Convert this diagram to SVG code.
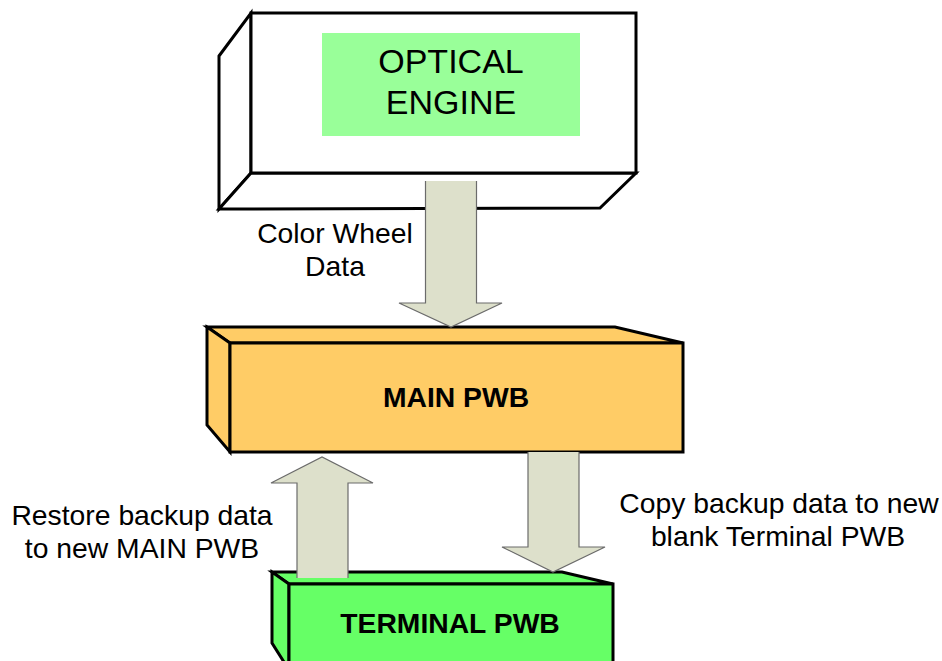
<svg xmlns="http://www.w3.org/2000/svg" width="942" height="661" viewBox="0 0 942 661">
<style>
.box{stroke:#000;stroke-width:3;stroke-linejoin:miter}
.arrow{fill:#DDE0CB;stroke:none}
.aline{fill:none;stroke:#6b6b6b;stroke-width:1.2}
.lbl{font-family:"Liberation Sans",Arial,sans-serif;font-size:28.3px;fill:#000;text-anchor:middle}
.big{font-size:34px}
.bold{font-weight:bold}
</style>
<rect width="942" height="661" fill="#fff"/>
<g id="optical-engine">
<polygon class="box" fill="#fff" points="219,56 251,13 251,173 219,209"/>
<polygon class="box" fill="#fff" points="251,173 636,173 600,208 219,209"/>
<rect class="box" fill="#fff" x="251" y="13" width="385" height="160"/>
<rect x="322" y="33" width="258" height="103" fill="#99FF99"/>
<text class="lbl big" x="451" y="73">OPTICAL</text>
<text class="lbl big" x="451" y="114">ENGINE</text>
</g>
<g id="main-pwb">
<polygon class="box" fill="#FFCC66" points="207,327 615,327 683,343 230,343"/>
<polygon class="box" fill="#FFCC66" points="207,327 230,343 230,452 207,425"/>
<rect class="box" fill="#FFCC66" x="230" y="343" width="453" height="109"/>
<text class="lbl bold" x="456" y="407">MAIN PWB</text>
</g>
<g id="terminal-pwb">
<polygon class="box" fill="#66FF66" points="272,572 562,572 613,584 289,584"/>
<polygon class="box" fill="#66FF66" points="272,572 289,584 289,670 272,643"/>
<rect class="box" fill="#66FF66" x="289" y="584" width="324" height="90"/>
<text class="lbl bold" x="450" y="633">TERMINAL PWB</text>
</g>
<g id="connectors">
<polygon class="arrow" points="425.5,181 476.5,181 476.5,303 502,303 451,327 399,303 425.5,303"/>
<polyline class="aline" points="476.5,181 476.5,303 502,303 451,327 399,303 425.5,303 425.5,181"/>
<polygon class="arrow" points="528,452 579,452 579,547 605,547 553,572 502,547 528,547"/>
<polyline class="aline" points="579,452 579,547 605,547 553,572 502,547 528,547 528,452"/>
<polygon class="arrow" points="297,578 348,578 348,483 373,483 322,457 271,483 297,483"/>
<polyline class="aline" points="348,578 348,483 373,483 322,457 271,483 297,483 297,578"/>
</g>
<g id="labels">
<text class="lbl" x="335" y="243">Color Wheel</text>
<text class="lbl" x="335" y="276">Data</text>
<text class="lbl" x="142" y="525">Restore backup data</text>
<text class="lbl" x="142" y="558">to new MAIN PWB</text>
<text class="lbl" x="779" y="513">Copy backup data to new</text>
<text class="lbl" x="778" y="546">blank Terminal PWB</text>
</g>
</svg>
